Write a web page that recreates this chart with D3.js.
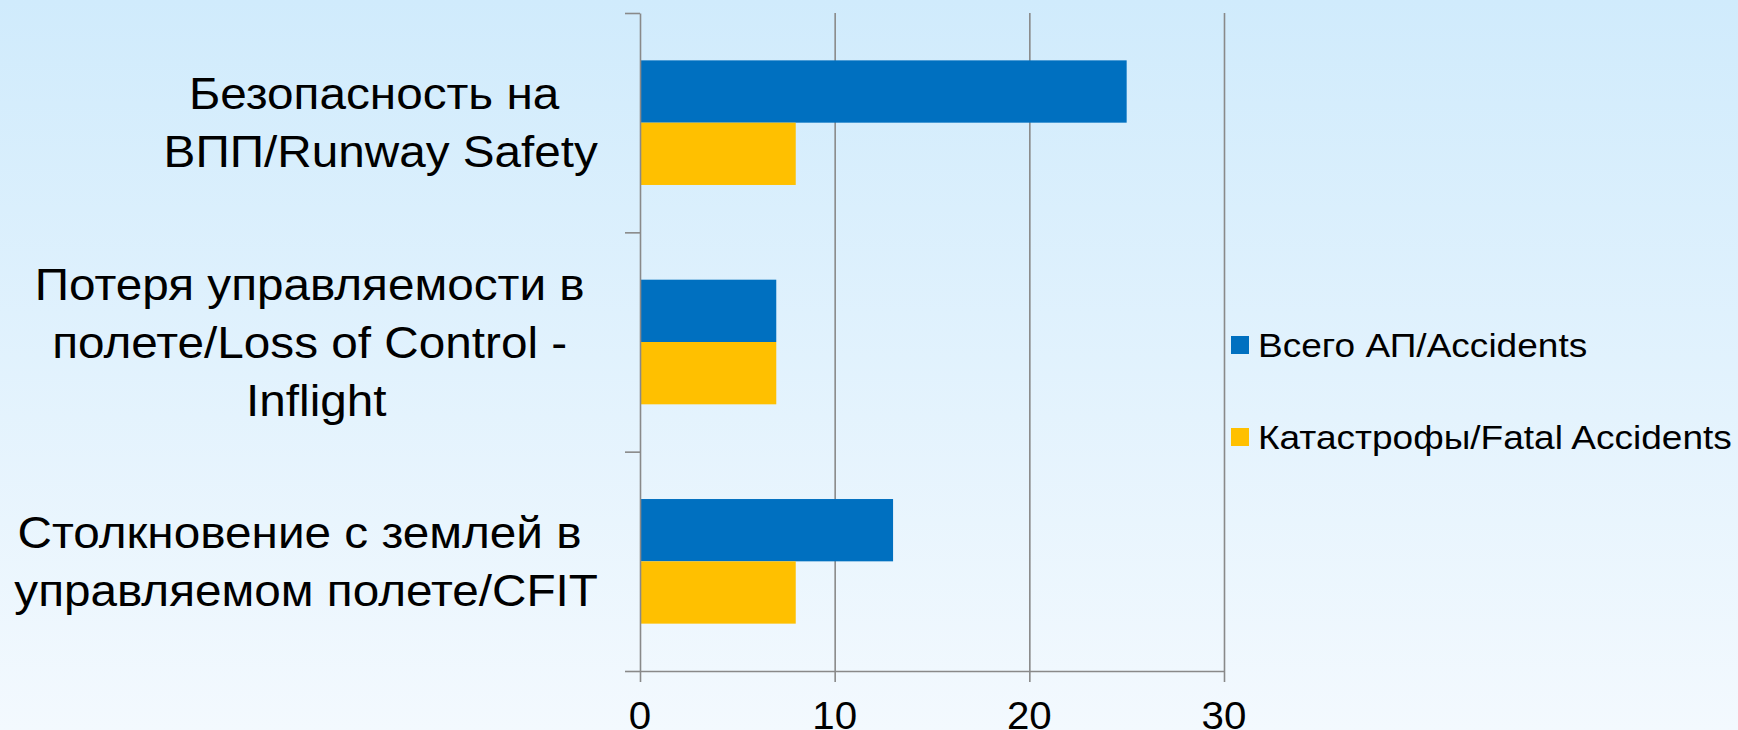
<!DOCTYPE html>
<html>
<head>
  <meta charset="utf-8">
  <title>Accidents by category</title>
  <script src="https://d3js.org/d3.v7.min.js"></script>
  <style>
    html, body { margin: 0; padding: 0; overflow: hidden; }
    text { font-family: "Liberation Sans", Arial, sans-serif; fill: #000; }
  </style>
</head>
<body>
  <div id="chart"></div>

  <script>
    // Categories, top to bottom, as wrapped on the slide
    const categories = [
      ["Безопасность на", "ВПП/Runway Safety"],
      ["Потеря управляемости в", "полете/Loss of Control -", "Inflight"],
      ["Столкновение с землей в", "управляемом полете/CFIT"]
    ];
    const seriesNames = ["Всего АП/Accidents", "Катастрофы/Fatal Accidents"];
    const accidents = [25, 7, 13];
    const fatalAccidents = [8, 7, 8];
    const xTicks = [0, 10, 20, 30];
    const colors = ["#0070C0", "#FFC000"];

    const W = 1738, H = 730;
    const margin = { top: 13, left: 640 },
          width = 584,
          height = 658;

    const svg = d3.select("#chart").append("svg")
        .attr("width", W).attr("height", H);

    // background gradient
    const grad = svg.append("defs").append("linearGradient")
        .attr("id", "bg").attr("x1", 0).attr("y1", 0).attr("x2", 0).attr("y2", 1);
    grad.append("stop").attr("offset", "0%").attr("stop-color", "#d0ebfc");
    grad.append("stop").attr("offset", "100%").attr("stop-color", "#f3f9fe");
    svg.append("rect").attr("width", W).attr("height", H).attr("fill", "url(#bg)");

    const g = svg.append("g")
        .attr("transform", "translate(" + margin.left + "," + margin.top + ")");

    // scales
    const x = d3.scaleLinear().domain([0, 30]).range([0, width]);
    const catIdx = d3.range(categories.length);
    const y0 = d3.scaleBand().domain(catIdx).range([0, height]).padding(0);
    const y1 = d3.scaleBand().domain([0, 1]).range([0, y0.bandwidth()])
        .paddingInner(0).paddingOuter(0.76);
    const yEdge = d3.scaleLinear().domain([0, categories.length]).range([0, height]);

    const gridColor = "#898989";

    // vertical gridlines
    g.append("g")
        .call(d3.axisBottom(x).tickValues(xTicks.slice(1)).tickSize(height).tickFormat(""))
        .call(s => s.select(".domain").remove())
        .selectAll("line").attr("stroke", gridColor).attr("stroke-width", 1.6);

    // bars
    const values = [accidents, fatalAccidents];
    const rows = [];
    catIdx.forEach(i => values.forEach((v, s) => rows.push({ cat: i, s: s, value: v[i] })));

    g.selectAll(".bar")
      .data(rows)
      .enter()
      .append("rect")
      .attr("class", "bar")
      .attr("x", x(0))
      .attr("y", d => y0(d.cat) + y1(d.s))
      .attr("width", d => x(d.value) - x(0))
      .attr("height", y1.bandwidth())
      .attr("fill", d => colors[d.s]);

    // left (category) axis: ticks on band edges
    g.append("g")
        .call(d3.axisLeft(yEdge).tickValues(d3.range(categories.length + 1)).tickSize(15).tickFormat("").tickSizeOuter(0))
        .call(s => s.selectAll("line, path").attr("stroke", gridColor).attr("stroke-width", 1.6));

    // bottom (value) axis
    g.append("g")
        .attr("transform", "translate(0," + height + ")")
        .call(d3.axisBottom(x).tickValues(xTicks).tickSize(11).tickFormat("").tickSizeOuter(0))
        .call(s => s.selectAll("line, path").attr("stroke", gridColor).attr("stroke-width", 1.6));

    // value tick labels (cut by the bottom edge, as on the slide)
    g.selectAll(".xlab")
      .data(xTicks)
      .enter()
      .append("text")
      .attr("class", "xlab")
      .attr("text-anchor", "middle")
      .attr("font-size", 38)
      .attr("transform", d => "translate(" + x(d) + "," + (height + 58) + ") scale(1.06,1)")
      .text(d => d);

    // category labels, wrapped lines centred in a block right-aligned to the axis
    const labelFont = 45, lineH = 58, labelRight = -42, stretch = 1.06;
    catIdx.forEach(i => {
      const lines = categories[i];
      const n = lines.length;
      const cy = y0(i) + y0.bandwidth() / 2;
      const texts = lines.map((line, k) => g.append("text")
          .attr("xml:space", "preserve")
          .style("white-space", "pre")
          .attr("font-size", labelFont)
          .attr("text-anchor", "middle")
          .text(k < n - 1 ? line + " " : line));
      const blockW = d3.max(texts, t => t.node().getComputedTextLength()) * stretch;
      const cx = labelRight - blockW / 2;
      texts.forEach((t, k) => {
        const by = cy + (k - (n - 1) / 2) * lineH + labelFont * 0.35;
        t.attr("transform", "translate(" + cx + "," + by + ") scale(" + stretch + ",1)");
      });
    });

    // legend
    const legend = svg.append("g");
    const legendY = [345, 437];
    seriesNames.forEach((name, s) => {
      legend.append("rect")
          .attr("x", 1231).attr("y", legendY[s] - 9)
          .attr("width", 18).attr("height", 18)
          .attr("fill", colors[s]);
      legend.append("text")
          .attr("font-size", 34)
          .attr("transform", "translate(1258," + (legendY[s] + 12) + ") scale(1.09,1)")
          .text(name);
    });
  </script>
</body>
</html>
